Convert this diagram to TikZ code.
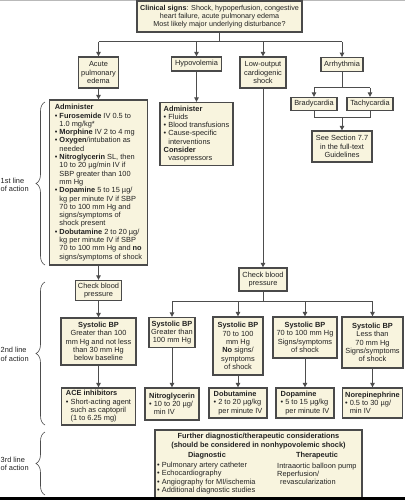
\documentclass[tikz,border=0pt]{standalone}
\usepackage{fontspec}
\setmainfont{Liberation Sans}
\usetikzlibrary{arrows.meta,decorations.pathreplacing}
\definecolor{boxfill}{HTML}{F8F4DE}
\definecolor{boxline}{HTML}{4A4A4A}
\definecolor{lnclr}{HTML}{4D4D4D}
\definecolor{txt}{HTML}{222222}
\newcommand\fs{\fontsize{7.4}{8.3}\selectfont}
\newcommand\bu{\textbullet\ }
\newcommand\ind{\phantom{\textbullet\ }}
\begin{document}
\begin{tikzpicture}[x=1pt,y=-1pt,
  box/.style={draw=boxline,line width=1.3pt,fill=boxfill,font=\fs,inner sep=1pt,align=center,text=txt},
  lbox/.style={box,align=left},
  ln/.style={draw=lnclr,line width=1pt},
  arr/.style={ln,-{Triangle[length=4.5pt,width=4.5pt]}},
  brc/.style={draw=lnclr,line width=0.6pt,decorate,decoration={brace,amplitude=9pt}},
  lab/.style={font=\fs,align=left,anchor=west,inner sep=0pt,text=txt},
  hd/.style={font=\fs\bfseries,align=center,inner sep=0pt,text=txt}]
\useasboundingbox (0,0) rectangle (405,500);
\fill[white] (0,0) rectangle (405,500);
\fill[gray!55] (0,0) rectangle (405,1.2);

% top
\node[box,font=\fontsize{7.2}{8.2}\selectfont,minimum width=165,minimum height=31] (top) at (219.5,16.5)
  {\textbf{Clinical signs}: Shock, hypoperfusion, congestive\\heart failure, acute pulmonary edema\\Most likely major underlying disturbance?};

% second row
\node[box,minimum width=40,minimum height=31] (ape) at (98.5,72.5) {Acute\\pulmonary\\edema};
\node[box,minimum width=50,minimum height=14] (hypo) at (196.5,64) {Hypovolemia};
\node[box,minimum width=46,minimum height=31] (low) at (263,72.5) {Low-output\\cardiogenic\\shock};
\node[box,minimum width=42,minimum height=13.5] (arrh) at (342,64.5) {Arrhythmia};

\node[box,minimum width=46,minimum height=13] (brady) at (314,104) {Bradycardia};
\node[box,minimum width=46,minimum height=13] (tachy) at (370,104) {Tachycardia};
\node[box,minimum width=60,minimum height=31] (see) at (342,146.5) {See Section 7.7\\in the full-text\\Guidelines};

% administer boxes
\node[lbox,minimum width=98,minimum height=165] (adm) at (98.5,182.5) {%
\textbf{Administer}\\
\bu\textbf{Furosemide} IV 0.5 to\\
\ind 1.0 mg/kg*\\
\bu\textbf{Morphine} IV 2 to 4 mg\\
\bu\textbf{Oxygen}/intubation as\\
\ind needed\\
\bu\textbf{Nitroglycerin} SL, then\\
\ind 10 to 20 µg/min IV if\\
\ind SBP greater than 100\\
\ind mm Hg\\
\bu\textbf{Dopamine} 5 to 15 µg/\\
\ind kg per minute IV if SBP\\
\ind 70 to 100 mm Hg and\\
\ind signs/symptoms of\\
\ind shock present\\
\bu\textbf{Dobutamine} 2 to 20 µg/\\
\ind kg per minute IV if SBP\\
\ind 70 to 100 mm Hg and \textbf{no}\\
\ind signs/symptoms of shock};

\node[lbox,minimum width=73,minimum height=63] (hadm) at (196.5,134) {%
\textbf{Administer}\\
\bu Fluids\\
\bu Blood transfusions\\
\bu Cause-specific\\
\ind interventions\\
\textbf{Consider}\\
\ind vasopressors};

% check blood pressure
\node[box,minimum width=46,minimum height=20] (cbpl) at (98.5,290.5) {Check blood\\pressure};
\node[box,minimum width=48,minimum height=23] (cbpc) at (263,279.5) {Check blood\\pressure};

% systolic boxes
\node[box,minimum width=75,minimum height=47] (sysl) at (98.5,341.5) {\textbf{Systolic BP}\\Greater than 100\\mm Hg and not less\\than 30 mm Hg\\below baseline};
\node[box,minimum width=46,minimum height=30] (sys2) at (172,332.5) {\textbf{Systolic BP}\\Greater than\\100 mm Hg};
\node[box,minimum width=50,minimum height=58] (sys3) at (238,346) {\textbf{Systolic BP}\\70 to 100\\mm Hg\\\textbf{No} signs/\\symptoms\\of shock};
\node[box,minimum width=64,minimum height=41] (sys4) at (305,337.5) {\textbf{Systolic BP}\\70 to 100 mm Hg\\Signs/symptoms\\of shock};
\node[box,minimum width=61,minimum height=51] (sys5) at (372.5,342.5) {\textbf{Systolic BP}\\Less than\\70 mm Hg\\Signs/symptoms\\of shock};

% drugs
\node[lbox,minimum width=74,minimum height=37] (ace) at (98.5,406.5) {\textbf{ACE inhibitors}\\\bu Short-acting agent\\\ind such as captopril\\\ind (1 to 6.25 mg)};
\node[lbox,minimum width=54,minimum height=32] (nitro) at (172,404) {\textbf{Nitroglycerin}\\\bu 10 to 20 µg/\\\ind min IV};
\node[lbox,minimum width=58,minimum height=30] (dobu) at (238,403) {\textbf{Dobutamine}\\\bu 2 to 20 µg/kg\\\ind per minute IV};
\node[lbox,minimum width=58,minimum height=30] (dopa) at (305,403) {\textbf{Dopamine}\\\bu 5 to 15 µg/kg\\\ind per minute IV};
\node[lbox,minimum width=60,minimum height=30] (nore) at (372.5,403) {\textbf{Norepinephrine}\\\bu 0.5 to 30 µg/\\\ind min IV};

% further considerations
\node[box,minimum width=207,minimum height=68] (fur) at (258.5,464) {};
\node[hd] (ftitle) at (258.5,441) {Further diagnostic/therapeutic considerations\\(should be considered in nonhypovolemic shock)};
\node[hd] (dh) at (207,456) {Diagnostic};
\node[hd] (th) at (317,456) {Therapeutic};
\node[lab] (dlist) at (157,478) {\bu Pulmonary artery catheter\\\bu Echocardiography\\\bu Angiography for MI/ischemia\\\bu Additional diagnostic studies};
\node[lab] (tlist) at (277,474) {Intraaortic balloon pump\\Reperfusion/\\\hspace{3pt}revascularization};

% connectors
\coordinate (j1) at (219.5,42);
\draw[ln] (top.south) -- (j1);
\draw[ln] (ape.north |- j1) -- (arrh.north |- j1);
\draw[arr] (ape.north |- j1) -- (ape.north);
\draw[arr] (hypo.north |- j1) -- (hypo.north);
\draw[arr] (low.north |- j1) -- (low.north);
\draw[arr] (arrh.north |- j1) -- (arrh.north);

\coordinate (j2) at (342,88);
\draw[ln] (arrh.south) -- (j2);
\draw[ln] (brady.north |- j2) -- (tachy.north |- j2);
\draw[arr] (brady.north |- j2) -- (brady.north);
\draw[arr] (tachy.north |- j2) -- (tachy.north);
\coordinate (j3) at (342,118);
\draw[ln] (brady.south) -- (brady.south |- j3) -- (tachy.south |- j3) -- (tachy.south);
\draw[arr] (j3) -- (see.north);

\draw[arr] (ape.south) -- (adm.north);
\draw[arr] (hypo.south) -- (hadm.north);
\draw[arr] (adm.south) -- (cbpl.north);
\draw[arr] (cbpl.south) -- (sysl.north);
\draw[arr] (sysl.south) -- (ace.north);
\draw[arr] (low.south) -- (cbpc.north);

\coordinate (j4) at (263,301);
\draw[ln] (cbpc.south) -- (j4);
\draw[ln] (sys2.north |- j4) -- (sys5.north |- j4);
\draw[arr] (sys2.north |- j4) -- (sys2.north);
\draw[arr] (sys3.north |- j4) -- (sys3.north);
\draw[arr] (sys4.north |- j4) -- (sys4.north);
\draw[arr] (sys5.north |- j4) -- (sys5.north);
\draw[arr] (sys2.south) -- (nitro.north);
\draw[arr] (sys3.south) -- (dobu.north);
\draw[arr] (sys4.south) -- (dopa.north);
\draw[arr] (sys5.south) -- (nore.north);

% braces and labels
\draw[brc] (45,265) -- (45,102);
\draw[brc] (45,425) -- (45,282);
\draw[brc] (45,495) -- (45,432);
\node[lab] (l1) at (0.5,185) {1st line\\of action};
\node[lab] (l2) at (0.5,354.5) {2nd line\\of action};
\node[lab] (l3) at (0.5,464) {3rd line\\of action};

\fill[black] (0,497) rectangle (405,500);
\end{tikzpicture}
\end{document}
